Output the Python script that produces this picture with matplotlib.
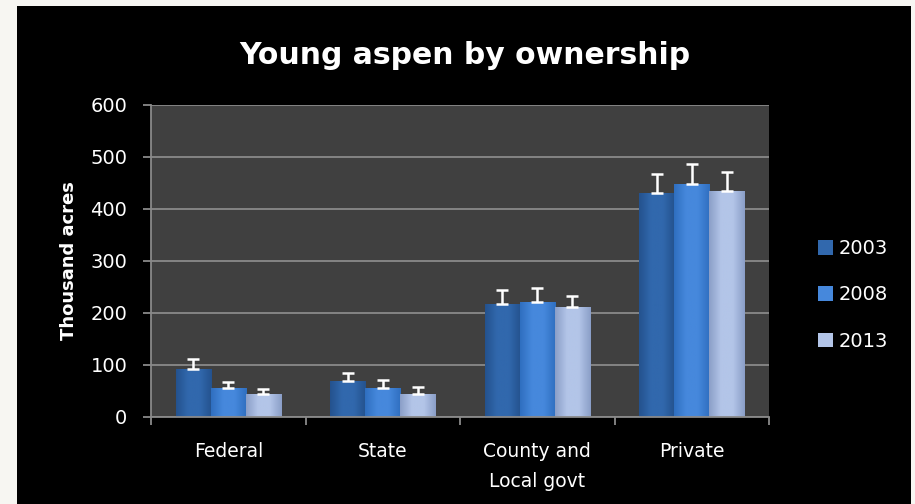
import matplotlib.pyplot as plt
import numpy as np
from matplotlib.patches import Rectangle
from matplotlib.colors import LinearSegmentedColormap

# данные с графика (тыс. акров)
categories = ["Federal", "State", "County and\nLocal govt", "Private"]
years = ["2003", "2008", "2013"]
acres_2003 = [92, 69, 217, 431]
acres_2008 = [55, 55, 222, 449]
acres_2013 = [44, 44, 211, 435]
err_2003 = [19, 16, 27, 36]
err_2008 = [12, 17, 27, 37]
err_2013 = [10, 13, 22, 37]

series = [acres_2003, acres_2008, acres_2013]
errors = [err_2003, err_2008, err_2013]
# (край, центр) для градиента
colors = [("#24528e", "#3168ad"), ("#2f6fc0", "#4688dc"), ("#8b9fc8", "#b3c5e8")]

plt.rcParams["font.family"] = ["DejaVu Sans"]

fig = plt.figure(figsize=(9.15, 5.04), dpi=100)
fig.patch.set_facecolor("#f7f6f2")
fig.patches.append(Rectangle((17 / 915, 0), 894 / 915, 498 / 504,
                             transform=fig.transFigure, facecolor="black",
                             edgecolor="none", zorder=-1))

ax = fig.add_axes([151 / 915, 1 - 417 / 504, 618 / 915, 312 / 504])
ax.set_zorder(1)
ax.set_facecolor("#404040")

x = np.arange(len(categories))
width = 0.227
handles = []
for i, (vals, errs, (c_edge, c_mid)) in enumerate(zip(series, errors, colors)):
    pos = x + (i - 1) * width
    bars = ax.bar(pos, vals, width, color=c_mid, edgecolor="none", zorder=2,
                  label=years[i])
    cmap = LinearSegmentedColormap.from_list("g%d" % i, [c_edge, c_mid, c_mid, c_edge])
    grad = np.linspace(0, 1, 64).reshape(1, -1)
    for b in bars:
        im = ax.imshow(grad, cmap=cmap, aspect="auto", zorder=2.1,
                       extent=[b.get_x(), b.get_x() + b.get_width(), 0, b.get_height()])
        im.set_clip_path(b)
    ax.errorbar(pos, vals, yerr=[np.zeros(len(vals)), errs], fmt="none",
                ecolor="white", elinewidth=1.8, capsize=4, capthick=1.8, zorder=3)
    handles.append(bars)

ax.set_xlim(-0.5, 3.5)
ax.set_ylim(0, 600)
ax.set_yticks(range(0, 601, 100))
ax.yaxis.grid(True, color="#8a8a8a", linewidth=1.3, zorder=1)
ax.set_axisbelow(True)

ax.set_xticks(x)
ax.set_xticklabels(categories, fontsize=13.5, color="white", linespacing=1.75)
ax.set_xticks(np.arange(-0.5, 4.0, 1), minor=True)
ax.tick_params(axis="x", which="major", length=0, pad=18)
ax.tick_params(axis="x", which="minor", length=6, width=1.3, color="#8a8a8a")
ax.tick_params(axis="y", length=6, width=1.3, color="#8a8a8a", labelcolor="white",
               labelsize=14, pad=11)

for side in ["top", "right"]:
    ax.spines[side].set_visible(False)
for side in ["left", "bottom"]:
    ax.spines[side].set_color("#8a8a8a")
    ax.spines[side].set_linewidth(1.3)

ax.set_ylabel("Thousand acres", color="white", fontsize=13, fontweight="bold",
              labelpad=9)
fig.text(465 / 915, 1 - 55 / 504, "Young aspen by ownership", color="white",
         fontsize=21.5, fontweight="bold", ha="center", va="center")

leg = fig.legend(handles, years, loc="center left",
                 bbox_to_anchor=(800 / 915, 1 - 295 / 504), frameon=False,
                 fontsize=14, labelcolor="white", handlelength=0.8,
                 handleheight=0.8, handletextpad=0.3, labelspacing=1.4)

fig.savefig("out.png", dpi=100, facecolor=fig.get_facecolor())
